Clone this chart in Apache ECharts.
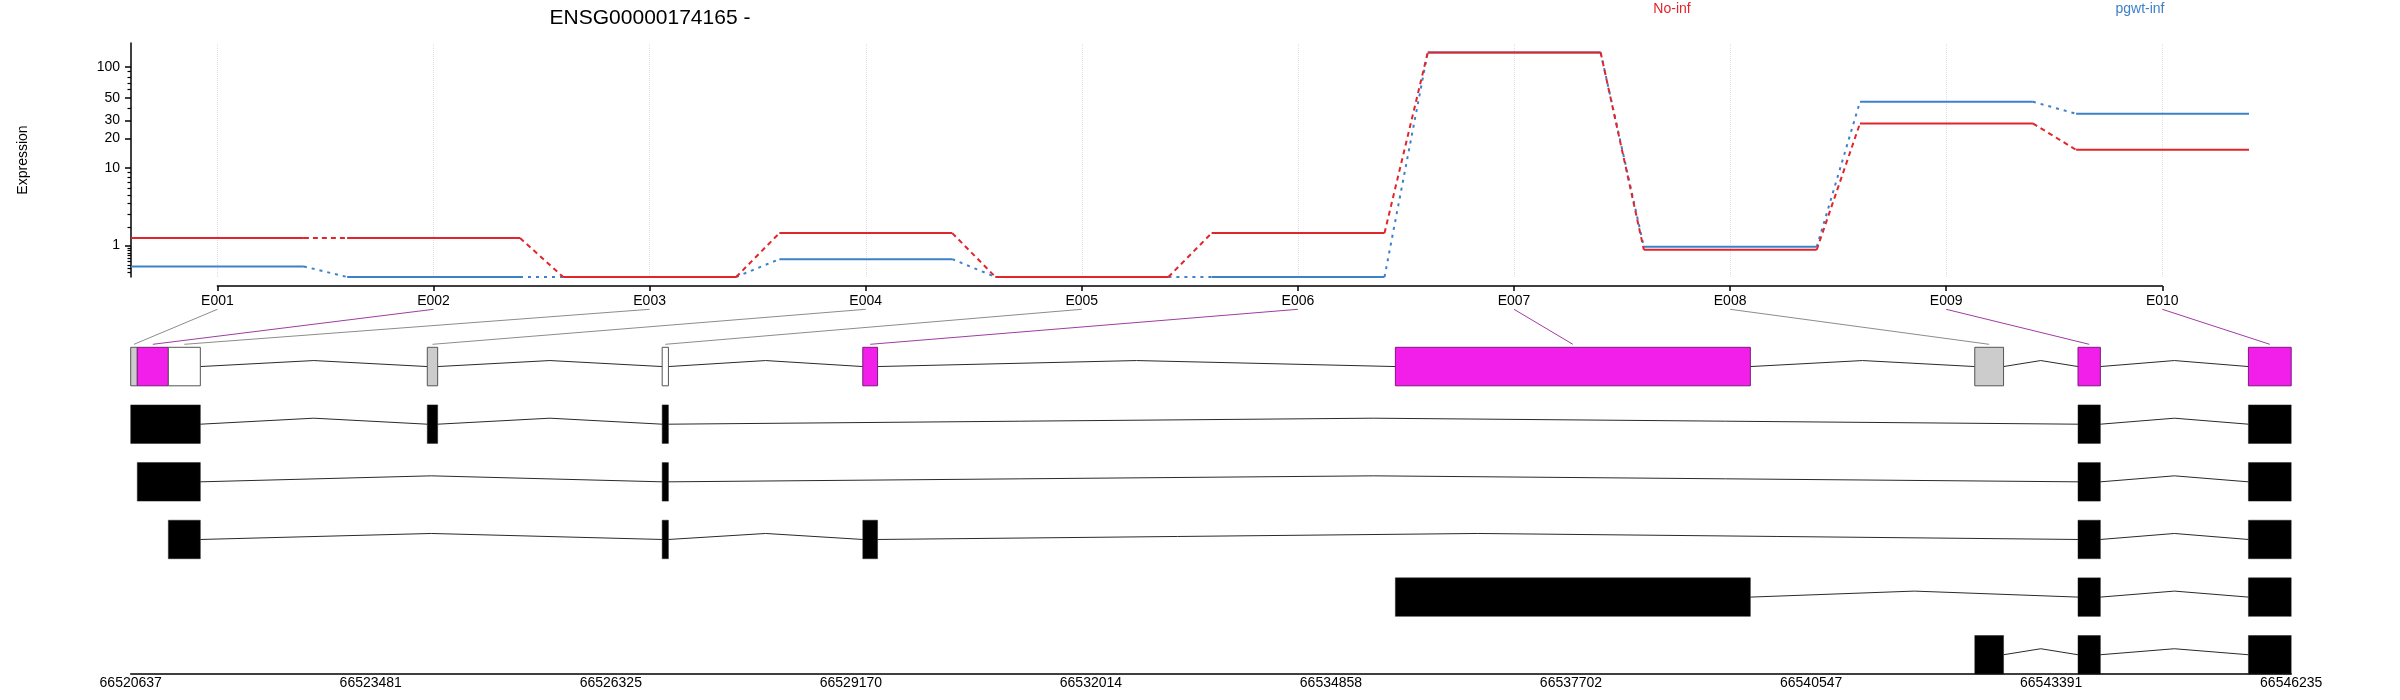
<!DOCTYPE html>
<html><head><meta charset="utf-8">
<script src="https://cdn.jsdelivr.net/npm/echarts@6/dist/echarts.min.js"></script>
<style>html,body{margin:0;padding:0;background:#fff}#c{width:2400px;height:700px}</style>
</head><body><div id="c"></div>
<script>
// ---------------- data ----------------
const titleText = 'ENSG00000174165 -';
const seriesNames = ['No-inf', 'pgwt-inf'];
const exonIds = ['E001','E002','E003','E004','E005','E006','E007','E008','E009','E010'];
const noInfValues   = [1.35, 1.35, 0, 1.62, 0, 1.62, 137, 0.82, 28.1, 15.3];
const pgwtInfValues = [0.26, 0,    0, 0.48, 0, 0,    137, 0.94, 45.8, 35.0];
const yTickLabels = [1, 10, 20, 30, 50, 100];
const yMinorTicks = [0.1,0.2,0.3,0.4,0.5,0.6,0.7,0.8,0.9, 2,3,4,5,6,7,8,9, 40,60,70,80,90];
const yMaxValue = 169;

const geneStart = 66520637, geneEnd = 66546235;
const genomicTickLabels = [66520637, 66523481, 66526325, 66529170, 66532014, 66534858, 66537702, 66540547, 66543391, 66546235];
const exonBinStart = [66520637, 66520715, 66521083, 66524151, 66526934, 66529311, 66535621, 66542486, 66543709, 66545728];
const exonBinEnd   = [66520715, 66521083, 66521462, 66524274, 66527008, 66529486, 66539827, 66542827, 66543974, 66546235];
const exonBinStatus = ['tested','sig','none','tested','none','sig','sig','tested','sig','sig'];
const transcript1 = [[66520637,66521462],[66524151,66524274],[66526934,66527008],[66543709,66543974],[66545728,66546235]];
const transcript2 = [[66520715,66521462],[66526934,66527008],[66543709,66543974],[66545728,66546235]];
const transcript3 = [[66521083,66521462],[66526934,66527008],[66529311,66529486],[66543709,66543974],[66545728,66546235]];
const transcript4 = [[66535621,66539827],[66543709,66543974],[66545728,66546235]];
const transcript5 = [[66542486,66542827],[66543709,66543974],[66545728,66546235]];

// ---------------- styles ----------------
const FONT = "'Liberation Sans', Arial, Helvetica, sans-serif";
const RED = '#E2242B', BLUE = '#3D82C8';
const STATUS_FILL = {sig: '#F21EEA', tested: '#CCCCCC', none: '#FFFFFF'};
const STATUS_STROKE = {sig: '#7d1a7d', tested: '#555555', none: '#555555'};
const LINK_STROKE = {sig: '#a03ca3', tested: '#8c8c8c', none: '#8c8c8c'};
const halfWidth = 0.4;
const rowHeight = 0.668;

const tf = v => Math.log10(v + 1);
const inv = L => Math.pow(10, L) - 1;

function plateauData(vals) {
  const d = [];
  vals.forEach((v, i) => { const x = i + 1; d.push([x - halfWidth, tf(v)], [x + halfWidth, tf(v)], ['-', '-']); });
  return d;
}
function connectorData(vals) {
  const d = [];
  for (let i = 0; i < vals.length - 1; i++) {
    d.push([i + 1 + halfWidth, tf(vals[i])], [i + 2 - halfWidth, tf(vals[i + 1])], ['-', '-']);
  }
  return d;
}
function intronsOf(intervals) {
  const s = intervals.slice().sort((a, b) => a[0] - b[0]);
  const r = [];
  for (let i = 0; i < s.length - 1; i++) if (s[i + 1][0] > s[i][1]) r.push([s[i][1], s[i + 1][0]]);
  return r;
}

const binIntervals = exonBinStart.map((s, i) => [s, exonBinEnd[i]]);
const transcripts = [transcript1, transcript2, transcript3, transcript4, transcript5];
const rows = [binIntervals].concat(transcripts);

const intronItems = [];
rows.forEach((iv, r) => intronsOf(iv).forEach(([a, b]) => intronItems.push([r, a, b])));
const binItems = binIntervals.map(([a, b], i) => [0, a, b, i]);
const txItems = [];
transcripts.forEach((iv, t) => iv.forEach(([a, b]) => txItems.push([t + 1, a, b])));
const linkItems = binIntervals.map(([a, b], i) => [i, (a + b) / 2]);

const chart = echarts.init(document.getElementById('c'), null, {renderer: 'canvas'});

const option = {
  backgroundColor: '#fff',
  animation: false,
  textStyle: {fontFamily: FONT},
  title: [
    {text: titleText, left: 650, top: 8, padding: 0, textAlign: 'center',
     textStyle: {fontSize: 21, fontWeight: 'normal', color: '#000', fontFamily: FONT}},
    {text: seriesNames[0], left: 1672, top: 2, padding: 0, textAlign: 'center',
     textStyle: {fontSize: 14, fontWeight: 'normal', color: RED, fontFamily: FONT}},
    {text: seriesNames[1], left: 2140, top: 2, padding: 0, textAlign: 'center',
     textStyle: {fontSize: 14, fontWeight: 'normal', color: BLUE, fontFamily: FONT}}
  ],
  grid: [
    {left: 131, right: 151, top: 43, height: 234},
    {left: 217.4, right: 237.7, top: 285, height: 1},
    {left: 130.7, right: 108.8, top: 347.3, bottom: 26}
  ],
  xAxis: [
    {gridIndex: 0, type: 'value', min: 1 - halfWidth, max: exonIds.length + halfWidth, show: false},
    {gridIndex: 1, type: 'value', min: 1, max: exonIds.length, interval: 1, position: 'bottom',
     axisLine: {onZero: false, lineStyle: {color: '#000', width: 1.5}},
     axisTick: {length: 5, lineStyle: {color: '#000', width: 1.5}},
     axisLabel: {formatter: v => exonIds[Math.round(v) - 1], fontSize: 14, margin: 8, color: '#000', fontFamily: FONT},
     splitLine: {show: false}},
    {gridIndex: 2, type: 'value', min: geneStart, max: geneEnd, position: 'bottom',
     axisLine: {onZero: false, lineStyle: {color: '#000', width: 1.5}},
     axisTick: {show: false},
     axisLabel: {customValues: genomicTickLabels, formatter: v => String(Math.round(v)), fontSize: 14, margin: 2, color: '#000', fontFamily: FONT},
     splitLine: {show: false}}
  ],
  yAxis: [
    {gridIndex: 0, type: 'value', min: 0, max: tf(yMaxValue), position: 'left',
     axisLine: {show: true, onZero: false, lineStyle: {color: '#000', width: 1.5}},
     axisTick: {show: true, customValues: yTickLabels.map(tf), length: 6, lineStyle: {color: '#000', width: 1.5}},
     axisLabel: {customValues: yTickLabels.map(tf), formatter: v => String(Math.round(inv(v))), margin: 11, fontSize: 14, color: '#000', fontFamily: FONT},
     splitLine: {show: false},
     name: 'Expression', nameLocation: 'middle', nameRotate: 90, nameGap: 101,
     nameTextStyle: {fontSize: 14, color: '#000', fontFamily: FONT}},
    {gridIndex: 0, type: 'value', min: 0, max: tf(yMaxValue), position: 'left',
     axisLine: {show: false, onZero: false},
     axisTick: {show: true, customValues: yMinorTicks.map(tf), length: 3.5, lineStyle: {color: '#000', width: 1.2}},
     axisLabel: {show: false}, splitLine: {show: false}},
    {gridIndex: 2, type: 'value', min: -rowHeight / 2, max: rows.length - 1 + rowHeight / 2, inverse: true, show: false},
    {gridIndex: 1, type: 'value', show: false}
  ],
  series: [
    {type: 'line', name: seriesNames[1] + ' link', xAxisIndex: 0, yAxisIndex: 0, data: connectorData(pgwtInfValues),
     showSymbol: false, symbol: 'none', connectNulls: false, silent: true,
     lineStyle: {color: BLUE, width: 2, type: [3, 5]}},
    {type: 'line', name: seriesNames[1], xAxisIndex: 0, yAxisIndex: 0, data: plateauData(pgwtInfValues),
     showSymbol: false, symbol: 'none', connectNulls: false, silent: true,
     lineStyle: {color: BLUE, width: 2},
     markLine: {silent: true, z: 1, symbol: ['none', 'none'], label: {show: false},
       lineStyle: {color: '#ecd6ec', type: 'dotted', width: 1},
       data: exonIds.map((_, i) => ({xAxis: i + 1}))}},
    {type: 'line', name: seriesNames[0] + ' link', xAxisIndex: 0, yAxisIndex: 0, data: connectorData(noInfValues),
     showSymbol: false, symbol: 'none', connectNulls: false, silent: true,
     lineStyle: {color: RED, width: 2, type: [5, 4]}},
    {type: 'line', name: seriesNames[0], xAxisIndex: 0, yAxisIndex: 0, data: plateauData(noInfValues),
     showSymbol: false, symbol: 'none', connectNulls: false, silent: true,
     lineStyle: {color: RED, width: 2}},
    // introns
    {type: 'custom', xAxisIndex: 2, yAxisIndex: 2, data: intronItems, silent: true,
     encode: {x: [1, 2], y: 0},
     renderItem: (params, api) => {
       const r = api.value(0);
       const p0 = api.coord([api.value(1), r]);
       const p1 = api.coord([api.value(2), r]);
       return {type: 'polyline', shape: {points: [p0, [(p0[0] + p1[0]) / 2, p0[1] - 6], p1]},
               style: {stroke: '#2a2a2a', lineWidth: 1, fill: null}};
     }},
    // exon bins row
    {type: 'custom', xAxisIndex: 2, yAxisIndex: 2, data: binItems, silent: true,
     encode: {x: [1, 2], y: 0},
     renderItem: (params, api) => {
       const r = api.value(0);
       const st = exonBinStatus[api.value(3)];
       const p0 = api.coord([api.value(1), r]);
       const p1 = api.coord([api.value(2), r]);
       const h = api.size([0, rowHeight])[1];
       return {type: 'rect', shape: {x: p0[0], y: p0[1] - h / 2, width: p1[0] - p0[0], height: h},
               style: {fill: STATUS_FILL[st], stroke: STATUS_STROKE[st], lineWidth: 1}};
     }},
    // transcripts
    {type: 'custom', xAxisIndex: 2, yAxisIndex: 2, data: txItems, silent: true,
     encode: {x: [1, 2], y: 0},
     renderItem: (params, api) => {
       const r = api.value(0);
       const p0 = api.coord([api.value(1), r]);
       const p1 = api.coord([api.value(2), r]);
       const h = api.size([0, rowHeight])[1];
       return {type: 'rect', shape: {x: p0[0], y: p0[1] - h / 2, width: p1[0] - p0[0], height: h},
               style: {fill: '#000', stroke: '#222', lineWidth: 0.5}};
     }},
    // label link lines
    {type: 'custom', xAxisIndex: 2, yAxisIndex: 2, data: linkItems, silent: true, clip: false,
     encode: {x: 1, y: 0},
     renderItem: (params, api) => {
       const i = api.value(0);
       const b = api.coord([api.value(1), 0]);
       const h = api.size([0, rowHeight])[1];
       let topX;
       try { topX = chart.convertToPixel({xAxisIndex: 1}, i + 1); } catch (e) { topX = b[0]; }
       const yB = b[1] - h / 2 - 3;
       const yT = yB - 35;
       return {type: 'line', shape: {x1: topX, y1: yT, x2: b[0], y2: yB},
               style: {stroke: LINK_STROKE[exonBinStatus[i]], lineWidth: 1}};
     }}
  ]
};
chart.setOption(option);
</script>
</body></html>
